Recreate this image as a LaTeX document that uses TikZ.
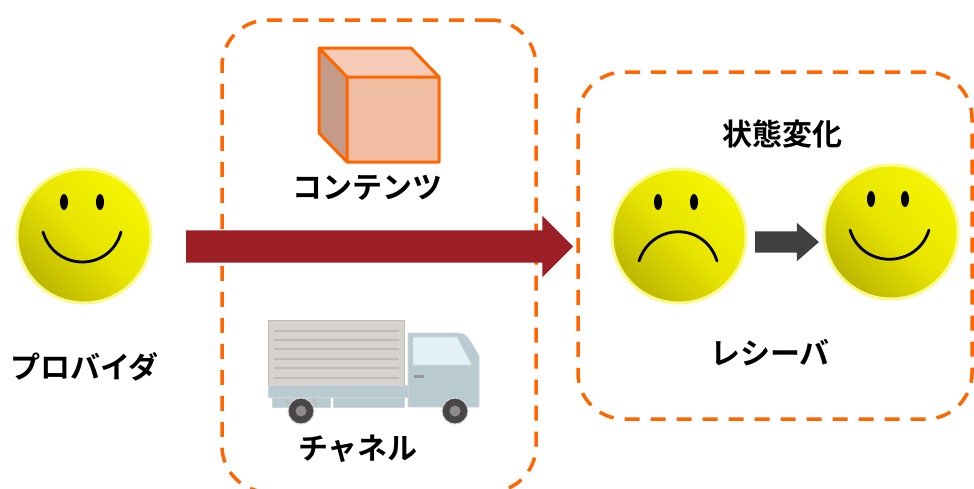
\documentclass[tikz,border=0pt]{standalone}
\usepackage{fontspec}
\newfontfamily\jp[BoldFont={Noto Sans CJK JP Bold}]{Noto Sans CJK JP}
\usetikzlibrary{shapes.arrows}
\definecolor{frameorange}{RGB}{255,102,0}
\definecolor{flowred}{RGB}{155,31,36}
\definecolor{stepgray}{RGB}{64,64,64}
\definecolor{facebright}{RGB}{245,245,0}
\definecolor{facemid}{RGB}{232,228,0}
\definecolor{facedark}{RGB}{188,182,0}
\definecolor{facerim}{RGB}{250,250,140}
\definecolor{cubefront}{RGB}{240,188,164}
\definecolor{cubeside}{RGB}{196,154,136}
\definecolor{cubetop}{RGB}{245,203,184}
\definecolor{cargo}{RGB}{214,210,206}
\definecolor{cargoline}{RGB}{192,187,182}
\definecolor{cabblue}{RGB}{186,202,209}
\definecolor{cabedge}{RGB}{205,215,220}
\definecolor{glass}{RGB}{228,241,248}
\definecolor{tyre}{RGB}{74,69,71}
\definecolor{hub}{RGB}{140,140,140}
\tikzset{
  dashbox/.style={draw=frameorange, line width=3.5pt, dash pattern=on 15pt off 11pt,
    rounded corners=46pt, inner sep=0pt, outer sep=0pt},
  face/.style={circle, minimum size=134pt, inner sep=0pt, draw=facerim, line width=3pt,
    top color=facebright, bottom color=facedark, middle color=facemid, shading angle=-45},
  eye/.style={fill=black},
  mouth/.style={draw=black, line width=2.8pt, line cap=round},
  label/.style={font=\jp\bfseries\fontsize{30pt}{30pt}\selectfont, anchor=base, inner sep=0pt},
  cubeline/.style={draw=frameorange, line width=3pt, line join=round},
  blockarrow/.style={single arrow, draw=none, inner xsep=0pt, outer sep=0pt, anchor=tail},
}
\begin{document}
\begin{tikzpicture}[x=1pt,y=-1pt]
\useasboundingbox (0,0) rectangle (974,488);

% dashed frames: channel and receiver
\node[dashbox, minimum width=314pt, minimum height=472pt] (chanbox) at (379,256) {};
\node[dashbox, minimum width=394pt, minimum height=347pt] (recvbox) at (775,245.5) {};

% provider
\node[face] (prov) at (84,236) {};
\fill[eye] (64,202) ellipse [x radius=4, y radius=8];
\fill[eye] (100,202) ellipse [x radius=4, y radius=8];
\draw[mouth] (43,232) .. controls (55,272) and (110,272) .. (121,232);
\node[label] (provtext) at (84.5,378) {プロバイダ};

% content: a cube
\fill[cubeside] (319,48) -- (347,77) -- (347,162) -- (319,133) -- cycle;
\fill[cubetop] (319,48) -- (411,48) -- (439,77) -- (347,77) -- cycle;
\fill[cubefront] (347,77) rectangle (439,162);
\draw[cubeline] (319,48) -- (411,48) -- (439,77) -- (439,162) -- (347,162) -- (319,133) -- cycle
  (319,48) -- (347,77) -- (439,77) (347,77) -- (347,162);
\node[label] (conttext) at (367,198) {コンテンツ};

% channel: a truck
\fill[cargo, draw=cargoline, line width=0.6pt] (268,320) rectangle (404,385);
\foreach \yy in {331,340,349,359,368,378}
  \draw[cargoline, line width=2.6pt] (274,\yy) -- (399,\yy);
\fill[cabblue, draw=cabedge, line width=0.8pt] (408,333) -- (453,333) .. controls (466,333) .. (479,356) -- (479,407) -- (408,407) -- cycle;
\fill[glass, draw=cabedge, line width=0.6pt] (413,337) -- (457,337) -- (472,365) -- (413,365) -- cycle;
\fill[hub!80!cabblue] (414,375) rectangle (424,378);
\fill[cabblue, draw=cabedge, line width=0.6pt] (268,385) rectangle (408,397);
\fill[cabblue, draw=cabedge, line width=0.6pt] (272,397) rectangle (330,407);
\fill[cabblue, draw=cabedge, line width=0.6pt] (333,397) rectangle (404,407);
\draw[cargoline, line width=1.2pt] (284,398) -- (290,405) (315,398) -- (309,405) (312,398) -- (318,405);
\foreach \xx in {301,455} {
  \fill[tyre, draw=cabedge, line width=1pt] (\xx,411) circle [radius=13];
  \fill[hub] (\xx,411) circle [radius=5.5];
}
\node[label] (chantext) at (358,459) {チャネル};

% delivery arrow
\node[blockarrow, fill=flowred, inner ysep=16pt,
  minimum height=387pt, minimum width=61pt, single arrow head extend=14.5pt,
  single arrow tip angle=90] (flow) at (186,246.5) {};

% receiver: state change
\node[label] (statetext) at (782,145) {状態変化};
\node[face] (sad) at (679,236) {};
\fill[eye] (658,202) ellipse [x radius=4, y radius=8];
\fill[eye] (694,202) ellipse [x radius=4, y radius=8];
\draw[mouth] (639,261) .. controls (652,222) and (705,222) .. (717,261);
\node[blockarrow, fill=stepgray, inner ysep=10.5pt,
  minimum height=64pt, minimum width=38pt, single arrow head extend=8.5pt,
  single arrow tip angle=82] (change) at (755,242) {};
\node[face] (happy) at (891,232) {};
\fill[eye] (871,199) ellipse [x radius=4, y radius=8];
\fill[eye] (905,199) ellipse [x radius=4, y radius=8];
\draw[mouth] (850,230) .. controls (862,269) and (917,269) .. (929,230);
\node[label] (recvtext) at (770,364) {レシーバ};
\end{tikzpicture}
\end{document}
